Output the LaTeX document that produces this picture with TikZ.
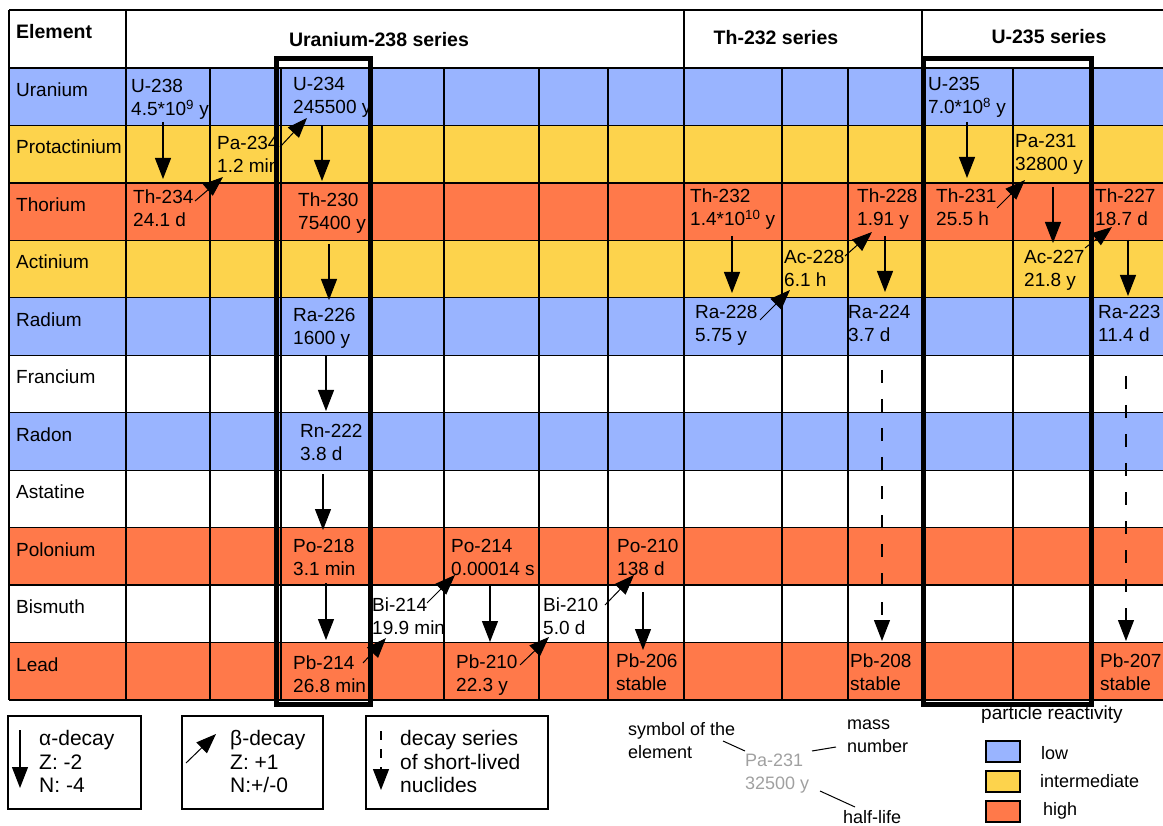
\documentclass[tikz,border=0pt]{standalone}
\usepackage{fontspec}
\setmainfont{Liberation Sans}
\usetikzlibrary{arrows.meta}
\definecolor{LowColor}{RGB}{153,180,255}
\definecolor{MidColor}{RGB}{253,211,76}
\definecolor{HighColor}{RGB}{255,121,74}
\definecolor{NoteGray}{RGB}{160,160,160}
\tikzset{Nuclide/.style={%
    anchor=north west,%
    align=left,%
    inner sep=0pt,%
    font=\fontsize{19}{23}\selectfont,%
}}
\tikzset{ElementName/.style={%
    anchor=base west,%
    inner sep=0pt,%
    font=\fontsize{19}{23}\selectfont,%
}}
\tikzset{SeriesTitle/.style={%
    anchor=base,%
    inner sep=0pt,%
    font=\fontsize{19.5}{22}\selectfont\bfseries,%
}}
\tikzset{AlphaEdge/.style={%
    -{Triangle[length=21pt,width=16pt]},%
    line width=1.2pt,%
}}
\tikzset{BetaEdge/.style={%
    -{Triangle[length=20pt,width=15pt]},%
    line width=1pt,%
}}
\tikzset{ShortLivedEdge/.style={%
    AlphaEdge,%
    dash pattern=on 13pt off 16pt,%
}}
\tikzset{GridLine/.style={line width=1.3pt}}
\tikzset{SeriesLine/.style={line width=2.6pt}}
\tikzset{FrameLine/.style={line width=5pt}}
\tikzset{KeyText/.style={%
    anchor=north west,%
    align=left,%
    inner sep=0pt,%
    font=\fontsize{21}{23.5}\selectfont,%
}}
\tikzset{NoteText/.style={%
    anchor=north west,%
    align=left,%
    inner sep=0pt,%
    font=\fontsize{18}{23}\selectfont,%
}}
\newcommand{\nuclide}[2]{\strut#1\\#2}

\begin{document}
\begin{tikzpicture}[x=1pt,y=-1pt]
    \useasboundingbox (0,0) rectangle (1163,826);
    \clip (0,0) rectangle (1163,826);

    % rows of the table
    \foreach \i/\clr/\name in {0/LowColor/Uranium, 1/MidColor/Protactinium,
        2/HighColor/Thorium, 3/MidColor/Actinium, 4/LowColor/Radium,
        5/white/Francium, 6/LowColor/Radon, 7/white/Astatine,
        8/HighColor/Polonium, 9/white/Bismuth, 10/HighColor/Lead} {
        \pgfmathsetmacro\rtop{68+57.45*\i}
        \fill[\clr] (9,\rtop) rectangle (1180,\rtop+57.45);
        \node[ElementName] (el-\name) at (16,\rtop+28.5) {\name};
    }

    % header
    \node[SeriesTitle, anchor=base west] (hdr-el) at (16,39) {Element};
    \node[SeriesTitle] (hdr-u238) at (379,46.5) {Uranium-238 series};
    \node[SeriesTitle] (hdr-th232) at (776,45) {Th-232 series};
    \node[SeriesTitle] (hdr-u235) at (1049,44) {U-235 series};

    % nuclides
    \node[Nuclide] (U238) at (131,76) {\nuclide{U-238}{4.5*10\textsuperscript{9} y}};
    \node[Nuclide] (Pa234) at (217,133) {\nuclide{Pa-234}{1.2 min}};
    \node[Nuclide] (Th234) at (133,187) {\nuclide{Th-234}{24.1 d}};
    \node[Nuclide] (U234) at (293,74) {\nuclide{U-234}{245500 y}};
    \node[Nuclide] (Th230) at (298,190) {\nuclide{Th-230}{75400 y}};
    \node[Nuclide] (Ra226) at (293,305) {\nuclide{Ra-226}{1600 y}};
    \node[Nuclide] (Rn222) at (300,421) {\nuclide{Rn-222}{3.8 d}};
    \node[Nuclide] (Po218) at (293,536) {\nuclide{Po-218}{3.1 min}};
    \node[Nuclide] (Pb214) at (293,653) {\nuclide{Pb-214}{26.8 min}};
    \node[Nuclide] (Bi214) at (372,595) {\nuclide{Bi-214}{19.9 min}};
    \node[Nuclide] (Po214) at (451,536) {\nuclide{Po-214}{0.00014 s}};
    \node[Nuclide] (Pb210) at (456,652) {\nuclide{Pb-210}{22.3 y}};
    \node[Nuclide] (Bi210) at (543,595) {\nuclide{Bi-210}{5.0 d}};
    \node[Nuclide] (Po210) at (617,536) {\nuclide{Po-210}{138 d}};
    \node[Nuclide] (Pb206) at (616,651) {\nuclide{Pb-206}{stable}};
    \node[Nuclide] (Th232) at (690,186) {\nuclide{Th-232}{1.4*10\textsuperscript{10} y}};
    \node[Nuclide] (Ra228) at (695,302) {\nuclide{Ra-228}{5.75 y}};
    \node[Nuclide] (Ac228) at (784,247) {\nuclide{Ac-228}{6.1 h}};
    \node[Nuclide] (Th228) at (857,186) {\nuclide{Th-228}{1.91 y}};
    \node[Nuclide] (Ra224) at (848,302) {\nuclide{Ra-224}{3.7 d}};
    \node[Nuclide] (Pb208) at (850,651) {\nuclide{Pb-208}{stable}};
    \node[Nuclide] (U235) at (928,74) {\nuclide{U-235}{7.0*10\textsuperscript{8} y}};
    \node[Nuclide] (Pa231) at (1015,131) {\nuclide{Pa-231}{32800 y}};
    \node[Nuclide] (Th231) at (936,186) {\nuclide{Th-231}{25.5 h}};
    \node[Nuclide] (Ac227) at (1024,247) {\nuclide{Ac-227}{21.8 y}};
    \node[Nuclide] (Th227) at (1095,186) {\nuclide{Th-227}{18.7 d}};
    \node[Nuclide] (Ra223) at (1098,302) {\nuclide{Ra-223}{11.4 d}};
    \node[Nuclide] (Pb207) at (1100,651) {\nuclide{Pb-207}{stable}};

    % grid
    \foreach \i in {0,...,11}
        \draw[GridLine] (9,68+57.45*\i) -- (1180,68+57.45*\i);
    \draw[GridLine] (9,10) -- (1180,10);
    \draw[GridLine] (9,10) -- (9,700);
    \draw[GridLine] (126,10) -- (126,700);
    \foreach \x in {210,281,371,444,539,608,782,848,1013,1091}
        \draw[GridLine] (\x,68) -- (\x,700);
    \draw[SeriesLine] (684,10) -- (684,700);
    \draw[SeriesLine] (922,10) -- (922,700);

    % framed chains
    \draw[FrameLine] (276,59) rectangle (370.5,704);
    \draw[FrameLine] (923.5,59) rectangle (1091,704);

    % alpha decays
    \foreach \from/\to/\x/\ya/\yb in {U238/Th234/163/122/179, U234/Th230/322/126/181,
        Th230/Ra226/329/244/300, Ra226/Rn222/326/356/411, Rn222/Po218/323/474/530,
        Po218/Pb214/326/583/640, Po214/Pb210/490/585/642, Po210/Pb206/643/592/650,
        Th232/Ra228/732/236/293, Th228/Ra224/885/236/292, U235/Th231/967/122/178,
        Pa231/Ac227/1053/187/243, Th227/Ra223/1128/240/296} {
        \coordinate (\from-a) at (\x,\ya);
        \coordinate (\to-in) at (\x,\yb);
        \path (\from-a) edge[AlphaEdge] (\to-in);
    }

    % beta decays
    \foreach \from/\to/\xa/\ya/\xb/\yb in {Th234/Pa234/195/201/223/177,
        Pa234/U234/280/147/307/118, Pb214/Bi214/363/663/386/638,
        Bi214/Po214/427/603/455/575, Pb210/Bi210/520/665/549/637,
        Bi210/Po210/605/605/634/575, Ra228/Ac228/760/320/790/290,
        Ac228/Th228/845/256/872/232, Th231/Pa231/997/208/1025/180,
        Ac227/Th227/1085/248/1112/227} {
        \coordinate (\from-b) at (\xa,\ya);
        \coordinate (\to-bin) at (\xb,\yb);
        \path (\from-b) edge[BetaEdge] (\to-bin);
    }

    % short-lived chains
    \coordinate (Ra224-s) at (882,370);
    \coordinate (Pb208-in) at (882,641);
    \path (Ra224-s) edge[ShortLivedEdge] (Pb208-in);
    \coordinate (Ra223-s) at (1126,376);
    \coordinate (Pb207-in) at (1126,641);
    \path (Ra223-s) edge[ShortLivedEdge] (Pb207-in);

    % key boxes
    \draw[GridLine] (8,716) rectangle (141,809);
    \coordinate (keyA-s) at (20,730);
    \coordinate (keyA-e) at (20,788);
    \path (keyA-s) edge[AlphaEdge] (keyA-e);
    \node[KeyText] (keyA) at (39,729) {\strut α-decay\\Z: -2\\N: -4};

    \draw[GridLine] (182,716) rectangle (323,809);
    \coordinate (keyB-s) at (186,763);
    \coordinate (keyB-e) at (216,734);
    \path (keyB-s) edge[BetaEdge] (keyB-e);
    \node[KeyText] (keyB) at (230,729) {\strut β-decay\\Z: +1\\N:+/-0};

    \draw[GridLine] (366,716) rectangle (548,809);
    \coordinate (keyS-s) at (381,731);
    \coordinate (keyS-e) at (381,790);
    \path (keyS-s) edge[AlphaEdge, dash pattern=on 9pt off 9pt] (keyS-e);
    \node[KeyText] (keyS) at (400,729) {\strut decay series\\of short-lived\\nuclides};

    % reading a cell
    \node[NoteText] (symText) at (628,719) {\strut symbol of the\\element};
    \node[NoteText, text=NoteGray] (example) at (745,750) {\strut Pa-231\\32500 y};
    \node[NoteText] (massText) at (847,713) {\strut mass\\number};
    \node[NoteText] (halfText) at (843,807) {\strut half-life};
    \draw[line width=1pt] (723,741) -- (745,751);
    \draw[line width=1pt] (812,751) -- (836,747);
    \draw[line width=1pt] (820,791) -- (855,807);

    % reactivity key
    \node[NoteText, anchor=base west, font=\fontsize{19}{23}\selectfont] (react) at (981,719) {particle reactivity};
    \draw[line width=1.2pt, fill=LowColor] (986,741) rectangle (1020,762);
    \draw[line width=1.2pt, fill=MidColor] (986,771) rectangle (1020,792);
    \draw[line width=1.2pt, fill=HighColor] (986,801) rectangle (1020,822);
    \node[NoteText, anchor=base west] (lowText) at (1041,759) {low};
    \node[NoteText, anchor=base west] (midText) at (1040,787) {intermediate};
    \node[NoteText, anchor=base west] (highText) at (1043,815) {high};
\end{tikzpicture}
\end{document}
